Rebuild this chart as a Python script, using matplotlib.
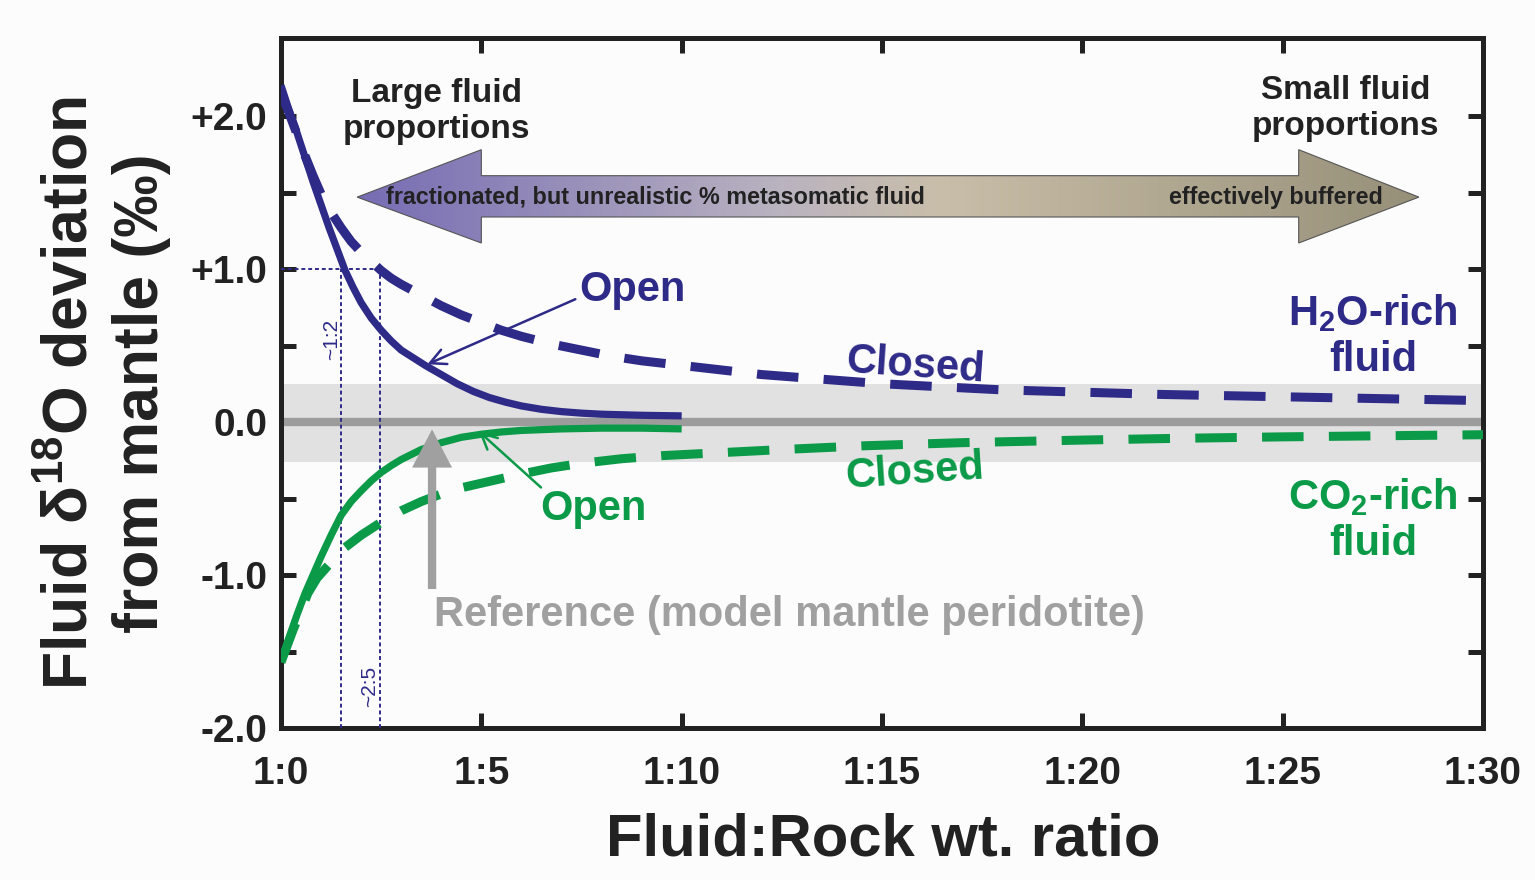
import numpy as np
import matplotlib
matplotlib.use("Agg")
import matplotlib.pyplot as plt
from matplotlib.patches import Polygon
from matplotlib.colors import LinearSegmentedColormap

plt.rcParams['font.family'] = ['Liberation Sans', 'DejaVu Sans']
plt.rcParams['font.weight'] = 'bold'
plt.rcParams['mathtext.fontset'] = 'custom'
plt.rcParams['mathtext.rm'] = 'Liberation Sans:bold'
plt.rcParams['mathtext.bf'] = 'Liberation Sans:bold'
plt.rcParams['mathtext.default'] = 'rm'

# curves (x = fluid per rock, y = per mil deviation)
h2o_open_x = [0, 0.2, 0.4, 0.6, 0.8, 1.0, 1.2, 1.4, 1.6, 1.8, 2.0, 2.25, 2.5, 2.75, 3.0,
              3.3, 3.6, 4.0, 4.4, 4.8, 5.2, 5.6, 6.0, 6.5, 7.0, 7.5, 8.0, 9.0, 10.0]
h2o_open_y = [2.20, 2.04, 1.89, 1.73, 1.57, 1.42, 1.27, 1.13, 0.99, 0.88, 0.78, 0.68, 0.60,
              0.53, 0.47, 0.42, 0.37, 0.31, 0.25, 0.20, 0.16, 0.13, 0.105, 0.083, 0.068,
              0.058, 0.051, 0.044, 0.04]

h2o_closed_x = [0, 0.2, 0.4, 0.6, 0.8, 1.0, 1.25, 1.5, 1.75, 2.0, 2.25, 2.5, 2.75, 3.0, 3.5,
                4.0, 4.5, 5.0, 5.5, 6.0, 6.75, 7.5, 8.25, 9.0, 10.0, 11.0, 12.0, 13.0, 14.0,
                15.0, 16.5, 18.0, 20.0, 22.0, 24.0, 26.0, 28.0, 30.0]
h2o_closed_y = [2.15, 2.02, 1.88, 1.74, 1.61, 1.49, 1.37, 1.27, 1.18, 1.11, 1.05, 0.99, 0.94,
                0.90, 0.83, 0.76, 0.70, 0.65, 0.60, 0.56, 0.51, 0.47, 0.43, 0.40, 0.37, 0.34,
                0.31, 0.29, 0.27, 0.25, 0.23, 0.21, 0.195, 0.18, 0.17, 0.16, 0.15, 0.14]

co2_open_x = [0, 0.2, 0.4, 0.6, 0.8, 1.0, 1.25, 1.5, 1.75, 2.0, 2.25, 2.5, 2.75, 3.0, 3.5,
              4.0, 4.5, 5.0, 5.5, 6.0, 7.0, 8.0, 9.0, 10.0]
co2_open_y = [-1.57, -1.41, -1.26, -1.12, -1.00, -0.88, -0.74, -0.61, -0.52, -0.45, -0.385,
              -0.33, -0.285, -0.245, -0.18, -0.135, -0.10, -0.08, -0.065, -0.055, -0.045,
              -0.04, -0.04, -0.045]

co2_closed_x = [0, 0.3, 0.67, 0.9, 1.17, 1.55, 2.0, 2.47, 3.0, 3.5, 4.0, 4.5, 5.0, 5.5, 6.0,
                6.75, 7.5, 8.5, 9.5, 11.0, 12.5, 14.6, 17.0, 20.0, 22.3, 25.0, 27.5, 30.0]
co2_closed_y = [-1.57, -1.36, -1.12, -1.02, -0.94, -0.83, -0.74, -0.66, -0.58, -0.52, -0.47,
                -0.43, -0.40, -0.37, -0.34, -0.30, -0.27, -0.24, -0.22, -0.20, -0.18, -0.155,
                -0.135, -0.118, -0.107, -0.097, -0.09, -0.083]

ref_band = (-0.26, 0.25)
ratio_1to2 = 1.5
ratio_2to5 = 2.47

xticks = [0, 5, 10, 15, 20, 25, 30]
xticklabels = ['1:0', '1:5', '1:10', '1:15', '1:20', '1:25', '1:30']
yticks = [-2, -1, 0, 1, 2]
yticklabels = ['-2.0', '-1.0', '0.0', '+1.0', '+2.0']

blue = '#2e2a88'
green = '#0b9a48'
gray = '#a0a0a0'
dark = '#222222'

fig = plt.figure(figsize=(15.35, 8.8), dpi=100, facecolor='#fcfcfc')
ax = fig.add_axes([281 / 1535, 152 / 880, 1202 / 1535, 690 / 880])
ax.set_facecolor('#fcfcfc')

# reference band and line
ax.axhspan(ref_band[0], ref_band[1], color='#e1e1e1', lw=0, zorder=1)
ax.axhline(0, color='#9c9c9c', lw=6, zorder=2)

# gradient double arrow
verts = [(1.9, 1.47), (5.0, 1.78), (5.0, 1.61), (25.4, 1.61), (25.4, 1.78), (28.4, 1.47),
         (25.4, 1.17), (25.4, 1.34), (5.0, 1.34), (5.0, 1.17)]
cmap = LinearSegmentedColormap.from_list('arr', [(0, '#766cb4'), (0.4, '#bab3c0'),
                                                 (0.55, '#c9bea9'), (1.0, '#979079')])
grad = np.linspace(0, 1, 256).reshape(1, -1)
im = ax.imshow(grad, cmap=cmap, aspect='auto', extent=(1.9, 28.4, 1.17, 1.78), zorder=3)
poly = Polygon(verts, closed=True, fc='none', ec='#555555', lw=0.8, zorder=4)
ax.add_patch(poly)
im.set_clip_path(poly)
ax.text(2.62, 1.47, 'fractionated, but unrealistic % metasomatic fluid', fontsize=16.8,
        color=dark, ha='left', va='center', zorder=5)
ax.text(27.5, 1.47, 'effectively buffered', fontsize=16.8, color=dark, ha='right',
        va='center', zorder=5)

# ratio guide lines
ax.plot([0, ratio_2to5], [1, 1], color=blue, lw=1.4, dashes=(2, 1.5), zorder=3)
ax.plot([ratio_1to2, ratio_1to2], [-2, 1], color=blue, lw=1.4, dashes=(2, 1.5), zorder=3)
ax.plot([ratio_2to5, ratio_2to5], [-2, 1], color=blue, lw=1.4, dashes=(2, 1.5), zorder=3)
ax.text(1.27, 0.54, '~1:2', rotation=90, fontsize=15, fontweight='normal', color=blue,
        ha='center', va='center')
ax.text(2.2, -1.73, '~2:5', rotation=90, fontsize=15, fontweight='normal', color=blue,
        ha='center', va='center')

# model curves
ax.plot(h2o_open_x, h2o_open_y, color=blue, lw=5.2, solid_capstyle='butt',
        solid_joinstyle='round', zorder=6)
ax.plot(h2o_closed_x, h2o_closed_y, color=blue, lw=6.5, dashes=(4.6, 2.8),
        dash_capstyle='butt', zorder=6)
ax.plot(co2_open_x, co2_open_y, color=green, lw=5.2, solid_capstyle='butt',
        solid_joinstyle='round', zorder=6)
ax.plot(co2_closed_x, co2_closed_y, color=green, lw=6.5, dashes=(4.6, 2.8),
        dash_capstyle='butt', zorder=6)

# labels and pointers
ax.annotate('', xy=(3.59, 0.37), xytext=(7.41, 0.81),
            arrowprops=dict(arrowstyle='->', lw=1.8, color=blue, mutation_scale=28), zorder=7)
ax.text(8.77, 0.86, 'Open', fontsize=30, color=blue, ha='center', va='center')
ax.annotate('', xy=(4.89, -0.05), xytext=(6.54, -0.44),
            arrowprops=dict(arrowstyle='->', lw=1.8, color=green, mutation_scale=28), zorder=7)
ax.text(7.81, -0.57, 'Open', fontsize=30, color=green, ha='center', va='center')
ax.text(15.82, 0.37, 'Closed', fontsize=30, color=blue, ha='center', va='center',
        rotation=-4, rotation_mode='anchor', zorder=7)
ax.text(15.82, -0.33, 'Closed', fontsize=30, color=green, ha='center', va='center',
        rotation=4, rotation_mode='anchor', zorder=7)
ax.text(27.25, 0.56, 'H$_2$O-rich\nfluid', fontsize=30, color=blue, ha='center',
        va='center', multialignment='center', linespacing=1.2)
ax.text(27.25, -0.64, 'CO$_2$-rich\nfluid', fontsize=30, color=green, ha='center',
        va='center', multialignment='center', linespacing=1.2)
ax.text(3.89, 2.03, 'Large fluid\nproportions', fontsize=24, color=dark, ha='center',
        va='center', linespacing=1.2)
ax.text(26.58, 2.05, 'Small fluid\nproportions', fontsize=24, color=dark, ha='center',
        va='center', linespacing=1.2)

ax.annotate('', xy=(3.77, -0.03), xytext=(3.77, -1.11),
            arrowprops=dict(arrowstyle='simple,head_width=1.15,head_length=1.1,tail_width=0.24',
                            color=gray, mutation_scale=25, lw=0), zorder=7)
ax.text(12.7, -1.26, 'Reference (model mantle peridotite)', fontsize=30, color=gray,
        ha='center', va='center')

ax.set_xlim(0, 30)
ax.set_ylim(-2, 2.51)

# axes styling
for s in ax.spines.values():
    s.set_linewidth(3.6)
    s.set_color(dark)
ax.set_xticks(xticks)
ax.set_xticklabels(xticklabels)
ax.set_yticks(yticks)
ax.set_yticklabels(yticklabels)
ax.set_yticks(np.arange(-1.5, 2.5, 1.0), minor=True)
ax.tick_params(axis='both', which='both', direction='in', length=11, width=3.6,
               color=dark, top=True, right=True, labelsize=28, labelcolor=dark)
ax.tick_params(axis='x', pad=20)
ax.tick_params(axis='y', pad=10)

fig.text(106 / 1535, 1 - 393 / 880, 'Fluid δ$^{18}$O deviation\nfrom mantle (‰)',
         rotation=90, fontsize=45, color=dark, ha='center', va='center',
         multialignment='center', linespacing=1.25)
fig.text(883 / 1535, 1 - 840 / 880, 'Fluid:Rock wt. ratio', fontsize=43, color=dark,
         ha='center', va='center')

fig.savefig('out.png', dpi=100, facecolor=fig.get_facecolor())
